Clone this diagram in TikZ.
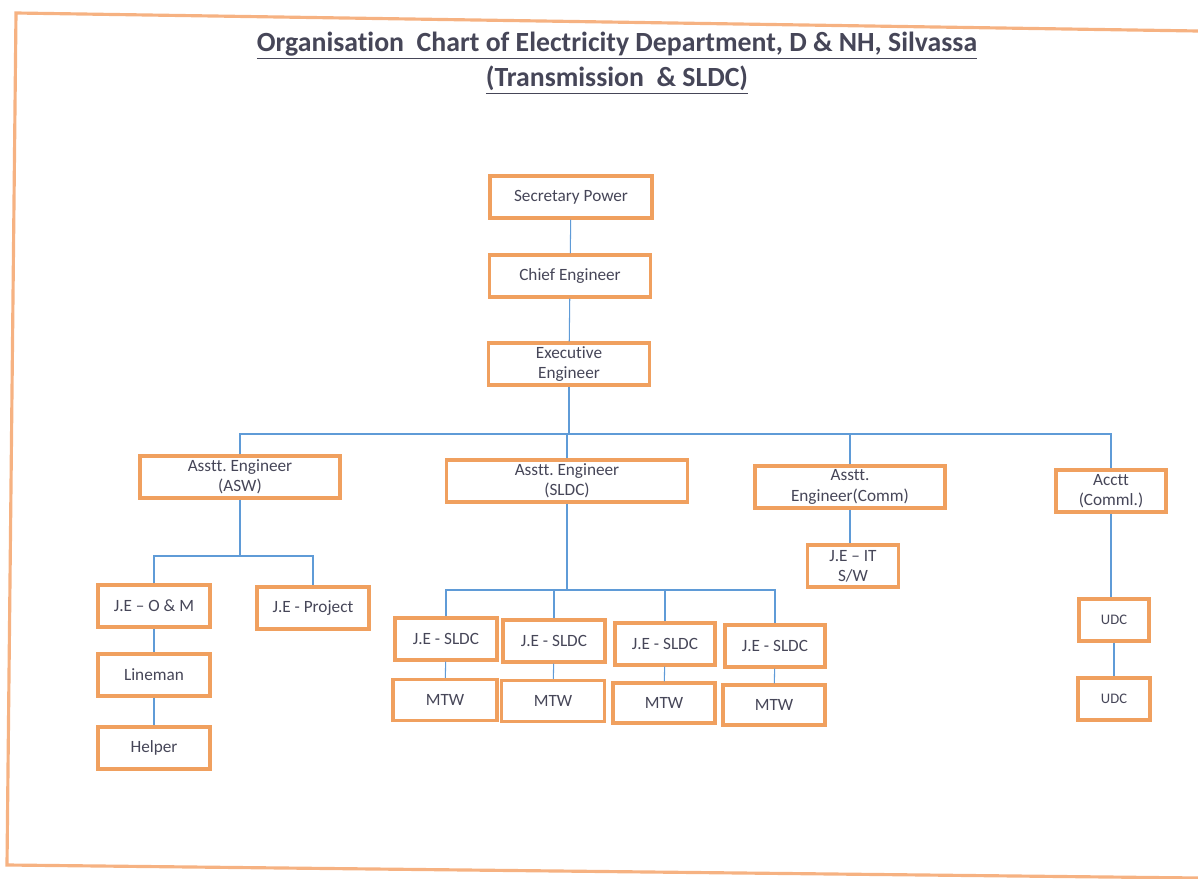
\documentclass[tikz,border=0pt]{standalone}
\usepackage{fontspec}
\setmainfont[Ligatures=NoCommon]{Carlito}
\usetikzlibrary{calc}
\definecolor{boxorange}{RGB}{240,160,95}
\definecolor{pageorange}{RGB}{246,178,130}
\definecolor{linkblue}{RGB}{95,155,215}
\definecolor{txtgrey}{RGB}{70,70,88}
\tikzset{
  post/.style={draw=boxorange, line width=1.8pt, fill=white, text=txtgrey, align=center,
    inner sep=1pt, minimum height=0.84cm, font=\fontsize{9.8}{11.5}\selectfont},
  small/.style={font=\fontsize{8.3}{10}\selectfont},
  link/.style={draw=linkblue, line width=0.6pt},
  heading/.style={text=txtgrey, font=\fontsize{15.8}{18}\selectfont\bfseries}
}

\begin{document}
\begin{tikzpicture}[x=0.02cm, y=-0.02cm]
		%%%%% START %%%%%
		\useasboundingbox (0, 0) rectangle (1198, 879);
		
		% page frame (scan is a little skewed)
		\draw[pageorange, line width=1.8pt] (1198, 31) -- (16, 13) -- (7, 865) -- (1198, 878);
		
		\node[heading] (title) at (617, 46) {\underline{Organisation\ \ Chart of Electricity Department, D \& NH, Silvassa}};
		\node[heading] (subtitle) at (617, 80) {\underline{(Transmission\ \ \& SLDC)}};
		
		% top of the chain
		\node[post, minimum width=3.24cm] (sec) at (571, 197) {Secretary Power};
		\node[post, minimum width=3.22cm] (chief) at (570, 276) {Chief Engineer};
		\node[post, minimum width=3.22cm] (exe) at (569, 364) {Executive\\Engineer};
		
		% assistant level
		\node[post, minimum width=4.0cm] (asw) at (240, 477) {Asstt.\ Engineer\\(ASW)};
		\node[post, minimum width=4.82cm] (asld) at (567, 481) {Asstt.\ Engineer\\(SLDC)};
		\node[post, minimum width=3.8cm] (acom) at (850, 487) {Asstt.\\Engineer(Comm)};
		\node[post, minimum width=2.2cm] (acct) at (1111, 491) {Acctt\\(Comml.)};
		
		% ASW branch
		\node[post, minimum width=2.24cm] (jeom) at (154, 606) {J.E -- O \& M};
		\node[post, minimum width=2.24cm] (jepr) at (313, 608) {J.E - Project};
		\node[post, minimum width=2.24cm] (lineman) at (154, 675) {Lineman};
		\node[post, minimum width=2.24cm] (helper) at (154, 748) {Helper};
		
		% SLDC branch
		\node[post, minimum width=2.04cm] (jes1) at (446, 639) {J.E - SLDC};
		\node[post, minimum width=2.04cm] (jes2) at (554, 641) {J.E - SLDC};
		\node[post, minimum width=2.0cm] (jes3) at (665, 644) {J.E - SLDC};
		\node[post, minimum width=2.0cm] (jes4) at (775, 646) {J.E - SLDC};
		\node[post, minimum width=2.08cm, minimum height=0.82cm] (mtw1) at (445, 700) {MTW};
		\node[post, minimum width=2.06cm, minimum height=0.82cm] (mtw2) at (553, 701) {MTW};
		\node[post, minimum width=2.04cm, minimum height=0.8cm] (mtw3) at (664, 703) {MTW};
		\node[post, minimum width=2.04cm, minimum height=0.8cm] (mtw4) at (774, 705) {MTW};
		
		% Comm and accounts branches
		\node[post, minimum width=1.82cm] (jeit) at (853, 566) {J.E -- IT\\S/W};
		\node[post, small, minimum width=1.4cm] (udc1) at (1114, 620) {UDC};
		\node[post, small, minimum width=1.44cm] (udc2) at (1114, 699) {UDC};
		
		% connectors
		\coordinate (topbus) at (569, 434);
		\coordinate (aswbus) at (240, 556);
		\coordinate (sldcbus) at (567, 590);
		
		\draw[link] (sec) -- (chief);
		\draw[link] (chief) -- (exe);
		\draw[link] (exe) -- (topbus);
		\draw[link] (asw.north) |- (topbus) -| (acct.north);
		\draw[link] (asld.north) -- (asld.north |- topbus);
		\draw[link] (acom.north) -- (acom.north |- topbus);
		
		\draw[link] (asw.south) -- (aswbus);
		\draw[link] (jeom.north) |- (aswbus) -| (jepr.north);
		\draw[link] (jeom) -- (lineman);
		\draw[link] (lineman) -- (helper);
		
		\draw[link] (asld.south) -- (sldcbus);
		\draw[link] (jes1.north) |- (sldcbus) -| (jes4.north);
		\draw[link] (jes2.north) -- (jes2.north |- sldcbus);
		\draw[link] (jes3.north) -- (jes3.north |- sldcbus);
		\foreach \k in {1,...,4}
		  \draw[link] (jes\k) -- (mtw\k);
		
		\draw[link] (acom.south) -- (acom.south |- jeit.north);
		\draw[link] (acct.south) -- (acct.south |- udc1.north);
		\draw[link] (udc1) -- (udc2);
		
		%%%%% END %%%%%
\end{tikzpicture}
\end{document}
